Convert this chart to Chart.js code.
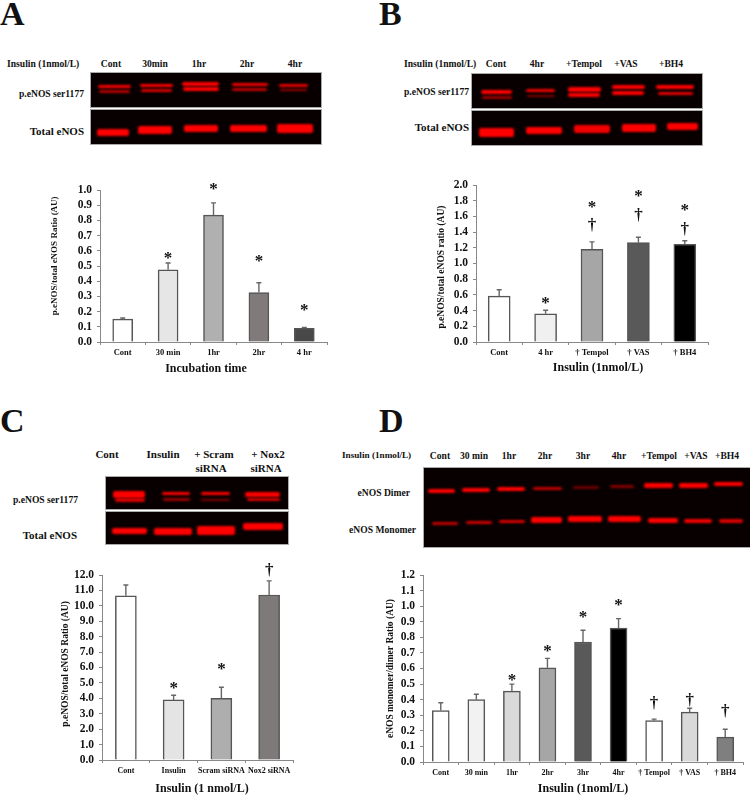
<!DOCTYPE html>
<html>
<head>
<meta charset="utf-8">
<title>eNOS panels</title>
<script src="https://cdn.jsdelivr.net/npm/chart.js@4"></script>
<style>
    html, body { margin: 0; padding: 0; background: #fff; }
    #page { position: relative; width: 750px; height: 798px; overflow: hidden; font-family: "Liberation Serif", serif; font-weight: bold; color: #111; }
    #page canvas { position: absolute; }
    .txt { position: absolute; white-space: pre; line-height: 1; }
    .blot { position: absolute; background: #080000; overflow: hidden; box-shadow: 0 0 0 1px #aaa; }
    .band { position: absolute; background: #ff0000; border-radius: 2px; filter: blur(0.8px); }
</style>
</head>
<body>
<div id="page">
    <canvas id="chartA" width="281" height="210" style="left:49px; top:170px;"></canvas>
    <canvas id="chartB" width="275" height="210" style="left:436px; top:165px;"></canvas>
    <canvas id="chartC" width="236" height="238" style="left:60px; top:560px;"></canvas>
    <canvas id="chartD" width="360" height="238" style="left:385px; top:560px;"></canvas>
</div>
<script>
// Panel A
var catsA = ['Cont', '30 min', '1hr', '2hr', '4 hr'];
var valsA = [0.15, 0.475, 0.835, 0.325, 0.09];
var topsA = [0.158, 0.52, 0.915, 0.39, 0.095];
var starsA = [null, 0.57, 1.026, 0.548, 0.224];
var dagsA = [null, null, null, null, null];
var fillsA = ['#ffffff', '#e6e6e6', '#b0b0b0', '#807a7a', '#484848'];

// Panel B
var catsB = ['Cont', '4 hr', '† Tempol', '† VAS', '† BH4'];
var valsB = [0.585, 0.36, 1.18, 1.265, 1.245];
var topsB = [0.665, 0.405, 1.275, 1.335, 1.29];
var starsB = [null, 0.53, 1.757, 1.89, 1.71];
var dagsB = [null, null, 1.49, 1.62, 1.44];
var fillsB = ['#ffffff', '#f0f0f0', '#a6a6a6', '#595959', '#000000'];

// Panel C
var catsC = ['Cont', 'Insulin', 'Scram siRNA', 'Nox2 siRNA'];
var valsC = [10.65, 3.9, 4.0, 10.7];
var topsC = [11.35, 4.2, 4.72, 11.62];
var starsC = [null, 4.81, 6.06, null];
var dagsC = [null, null, null, 12.3];
var fillsC = ['#ffffff', '#e4e4e4', '#aeaeae', '#7f7a7a'];

// Panel D
var catsD = ['Cont', '30 min', '1hr', '2hr', '3hr', '4hr', '† Tempol', '† VAS', '† BH4'];
var valsD = [0.33, 0.40, 0.455, 0.605, 0.77, 0.86, 0.265, 0.32, 0.16];
var topsD = [0.38, 0.435, 0.50, 0.665, 0.845, 0.92, 0.275, 0.345, 0.21];
var starsD = [null, null, 0.544, 0.726, 0.945, 1.026, null, null, null];
var dagsD = [null, null, null, null, null, null, 0.381, 0.40, 0.33];
var fillsD = ['#ffffff', '#f2f2f2', '#d9d9d9', '#a6a6a6', '#595959', '#000000', '#ffffff', '#d9d9d9', '#7f7f7f'];

var FONT = '"Liberation Serif", serif';

var extrasPlugin = {
    id: 'extras',
    afterDatasetsDraw: function(chart, args, opts) {
        var ctx = chart.ctx;
        var y = chart.scales.y;
        var meta = chart.getDatasetMeta(0);
        ctx.save();
        meta.data.forEach(function(bar, i) {
            var yTop = y.getPixelForValue(opts.tops[i]);
            var yBar = y.getPixelForValue(chart.data.datasets[0].data[i]);
            ctx.strokeStyle = '#666';
            ctx.lineWidth = 1.4;
            ctx.beginPath();
            ctx.moveTo(bar.x, yBar);
            ctx.lineTo(bar.x, yTop);
            ctx.moveTo(bar.x - 2.5, yTop);
            ctx.lineTo(bar.x + 2.5, yTop);
            ctx.stroke();

            ctx.fillStyle = '#111';
            ctx.textAlign = 'center';
            ctx.textBaseline = 'alphabetic';
            if (opts.stars[i] !== null) drawMark(ctx, '*', bar.x, y.getPixelForValue(opts.stars[i]), 17);
            if (opts.dags[i] !== null) drawMark(ctx, '†', bar.x, y.getPixelForValue(opts.dags[i]), 17);
        });
        ctx.restore();
    }
};

function drawMark(ctx, glyph, x, y, size) {
    ctx.font = 'bold ' + size + 'px ' + FONT;
    var m = ctx.measureText(glyph);
    ctx.fillText(glyph, x, y + (m.actualBoundingBoxAscent - m.actualBoundingBoxDescent) / 2);
}

function makeChart(id, cats, vals, tops, stars, dags, fills, o) {
    return new Chart(document.getElementById(id), {
        type: 'bar',
        plugins: [extrasPlugin],
        data: {
            labels: cats,
            datasets: [{
                data: vals,
                backgroundColor: fills,
                borderColor: '#555',
                borderWidth: 1.5,
                borderSkipped: 'bottom',
                barThickness: o.barWidth
            }]
        },
        options: {
            responsive: false,
            animation: false,
            layout: { padding: { top: o.padTop, right: o.padRight, left: 0, bottom: 0 } },
            plugins: {
                legend: { display: false },
                tooltip: { enabled: false },
                extras: { tops: tops, stars: stars, dags: dags }
            },
            scales: {
                x: {
                    grid: { offset: true, drawOnChartArea: false, color: '#888', tickLength: 3 },
                    border: { color: '#888' },
                    ticks: { color: '#111', padding: 3, maxRotation: 0, autoSkip: false, font: { family: FONT, weight: 'bold', size: o.xSize } },
                    title: {
                        display: true,
                        text: o.xTitle,
                        color: '#111',
                        padding: { top: 0, bottom: o.xTitleBottom },
                        font: { family: FONT, weight: 'bold', size: o.xTitleSize }
                    },
                    afterFit: function(scale) { scale.height = o.xHeight; }
                },
                y: {
                    min: 0,
                    max: o.max,
                    grid: { drawOnChartArea: false, color: '#888', tickLength: 3 },
                    border: { color: '#888' },
                    ticks: {
                        stepSize: o.step,
                        autoSkip: false,
                        color: '#111',
                        padding: 5,
                        font: { family: FONT, weight: 'bold', size: o.ySize },
                        callback: function(v) { return v.toFixed(1); }
                    },
                    title: {
                        display: true,
                        text: o.yTitle,
                        color: '#111',
                        padding: 0,
                        font: { family: FONT, weight: 'bold', size: o.yTitleSize }
                    },
                    afterFit: function(scale) { scale.width = o.yWidth; }
                }
            }
        }
    });
}

var NB = '\u00a0';
function pad(n) { return new Array(n + 1).join(NB); }

makeChart('chartA', catsA, valsA, topsA, starsA, dagsA, fillsA, {
    barWidth: 20, padTop: 20, padRight: 3, max: 1.0, step: 0.1,
    xHeight: 38, yWidth: 51, xSize: 8.5, ySize: 11.5,
    xTitle: 'Incubation time' + pad(5), xTitleSize: 12, xTitleBottom: 4,
    yTitle: pad(9) + 'p.eNOS/total eNOS Ratio (AU)', yTitleSize: 9
});
makeChart('chartB', catsB, valsB, topsB, starsB, dagsB, fillsB, {
    barWidth: 22, padTop: 20, padRight: 3, max: 2.0, step: 0.2,
    xHeight: 33, yWidth: 40, xSize: 8.5, ySize: 11.5,
    xTitle: pad(4) + 'Insulin (1nmol/L)', xTitleSize: 12, xTitleBottom: 0,
    yTitle: 'p.eNOS/total eNOS ratio (AU)' + pad(3), yTitleSize: 9.5
});
makeChart('chartC', catsC, valsC, topsC, starsC, dagsC, fillsC, {
    barWidth: 21, padTop: 15, padRight: 3, max: 12, step: 1,
    xHeight: 38, yWidth: 42, xSize: 8, ySize: 11.5,
    xTitle: pad(3) + 'Insulin (1 nmol/L)', xTitleSize: 12, xTitleBottom: 2,
    yTitle: pad(3) + 'p.eNOS/total eNOS Ratio (AU)', yTitleSize: 9.5
});
makeChart('chartD', catsD, valsD, topsD, starsD, dagsD, fillsD, {
    barWidth: 17, padTop: 15, padRight: 2, max: 1.2, step: 0.1,
    xHeight: 36, yWidth: 38, xSize: 8, ySize: 11.5,
    xTitle: 'Insulin (1noml/L)', xTitleSize: 12, xTitleBottom: 2,
    yTitle: 'eNOS monomer/dimer Ratio (AU)', yTitleSize: 9.5
});

// --- text around the blots ---
var page = document.getElementById('page');

function txt(text, x, y, size, align) {
    var el = document.createElement('div');
    el.className = 'txt';
    el.textContent = text;
    el.style.left = x + 'px';
    el.style.top = y + 'px';
    el.style.fontSize = size + 'px';
    var tx = align === 'right' ? '-100%' : (align === 'left' ? '0' : '-50%');
    el.style.transform = 'translate(' + tx + ', -50%)';
    page.appendChild(el);
}

function row(items, y, size) {
    items.forEach(function(it) { txt(it[0], it[1], y, size); });
}

txt('A', 0, 14, 34, 'left');
txt('B', 379, 14, 34, 'left');
txt('C', 0, 421, 34, 'left');
txt('D', 379, 421, 34, 'left');

txt('Insulin (1nmol/L)', 7, 64, 9.6, 'left');
row([['Cont', 111], ['30min', 155], ['1hr', 199], ['2hr', 247], ['4hr', 295]], 64, 9.6);
txt('p.eNOS ser1177', 84, 94, 9.6, 'right');
txt('Total eNOS', 84, 131, 11, 'right');

txt('Insulin (1nmol/L)', 404, 64, 9.6, 'left');
row([['Cont', 496], ['4hr', 537], ['+Tempol', 584], ['+VAS', 626], ['+BH4', 671]], 64, 9.6);
txt('p.eNOS ser1177', 469, 92, 9.6, 'right');
txt('Total eNOS', 469, 127, 11, 'right');

row([['Cont', 107], ['Insulin', 163], ['+ Scram', 214], ['+ Nox2', 268]], 454, 11);
row([['siRNA', 211], ['siRNA', 266]], 468, 11);
txt('p.eNOS ser1177', 78, 500, 9.6, 'right');
txt('Total eNOS', 77, 535, 11, 'right');

txt('Insulin (1nmol/L)', 342, 456, 9.2, 'left');
row([['Cont', 440], ['30 min', 474], ['1hr', 509], ['2hr', 545], ['3hr', 583], ['4hr', 619],
     ['+Tempol', 659], ['+VAS', 696], ['+BH4', 727]], 456, 9.6);
txt('eNOS Dimer', 410, 493, 9.6, 'right');
txt('eNOS Monomer', 416, 530, 9.6, 'right');

// --- blots: the gel photos, bands are [x0, x1, yCentre, height, alpha] measured on the 3x crops ---
function blot(left, top, w, h, ox, oy, bands) {
    var el = document.createElement('div');
    el.className = 'blot';
    el.style.cssText = 'left:' + left + 'px; top:' + top + 'px; width:' + w + 'px; height:' + h + 'px;';
    bands.forEach(function(b) {
        var s = document.createElement('div');
        s.className = 'band';
        // blur eats thin bands, so give them a little extra height
        var bh = (b[3] + 3) / 3;
        s.style.left = (ox + b[0] / 3 - left) + 'px';
        s.style.width = ((b[1] - b[0]) / 3) + 'px';
        s.style.top = (oy + b[2] / 3 - bh / 2 - top) + 'px';
        s.style.height = bh + 'px';
        s.style.opacity = b[4];
        el.appendChild(s);
    });
    page.appendChild(el);
}

blot(91, 73, 230, 34, 0, 0, [
    [293, 393, 260, 7, 1], [296, 390, 274, 5, 0.7],
    [420, 518, 257, 8, 1], [422, 516, 272, 8, 0.85],
    [547, 658, 253, 10, 1], [549, 656, 267, 10, 1],
    [695, 803, 253, 7, 0.95], [697, 800, 267, 6, 0.75],
    [838, 925, 256, 6, 0.9], [840, 922, 270, 5, 0.6]
]);
blot(91, 110, 230, 34, 0, 0, [
    [290, 388, 398, 20, 1], [415, 515, 390, 22, 1], [551, 653, 386, 20, 1],
    [690, 800, 386, 20, 1], [830, 938, 386, 26, 1]
]);

blot(472, 74, 230, 34, 375, 0, [
    [318, 412, 275, 9, 1], [322, 410, 292, 5, 0.6],
    [452, 540, 271, 7, 0.95], [455, 540, 288, 4, 0.5],
    [578, 678, 268, 11, 1], [580, 675, 286, 10, 1],
    [710, 810, 261, 11, 1], [710, 808, 280, 10, 1],
    [843, 958, 260, 10, 1], [850, 955, 281, 8, 0.9]
]);
blot(472, 111, 230, 34, 375, 0, [
    [312, 417, 398, 24, 1], [452, 562, 392, 20, 1], [598, 705, 386, 22, 0.95],
    [740, 842, 385, 22, 1], [875, 970, 380, 20, 1]
]);

blot(106, 477, 182, 32, 0, 400, [
    [340, 435, 282, 18, 1], [345, 435, 301, 10, 0.85],
    [487, 570, 281, 8, 1], [490, 570, 298, 7, 0.6],
    [603, 690, 281, 8, 1], [603, 690, 300, 4, 0.5],
    [735, 840, 283, 14, 1], [740, 840, 298, 8, 0.85]
]);
blot(106, 512, 182, 32, 0, 400, [
    [335, 440, 394, 16, 1], [462, 575, 394, 20, 1], [592, 705, 390, 24, 1], [730, 850, 380, 20, 1]
]);

blot(424, 468, 330, 79, 375, 400, [
    [158, 240, 273, 9, 1], [262, 345, 270, 10, 1], [367, 450, 267, 10, 1],
    [475, 560, 265, 7, 0.75], [595, 672, 263, 5, 0.4], [705, 778, 260, 6, 0.5],
    [806, 893, 257, 13, 1], [913, 998, 255, 12, 1], [1018, 1105, 252, 10, 1],
    [172, 250, 370, 6, 0.75], [272, 350, 367, 8, 0.8], [372, 450, 364, 8, 0.85],
    [468, 562, 359, 15, 1], [580, 680, 357, 14, 1], [700, 798, 357, 14, 1],
    [820, 910, 360, 12, 1], [928, 1012, 362, 10, 0.95], [1032, 1105, 364, 9, 0.85]
]);
</script>
</body>
</html>
